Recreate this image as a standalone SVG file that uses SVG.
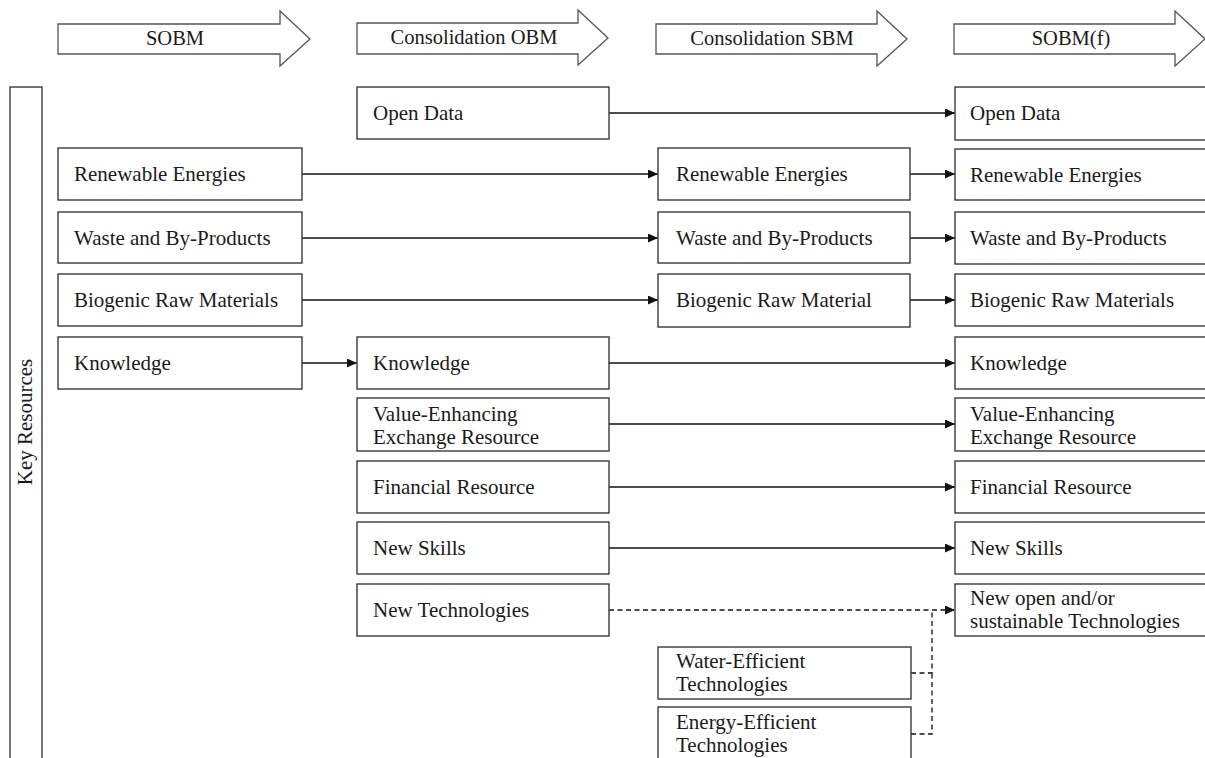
<svg xmlns="http://www.w3.org/2000/svg" width="1205" height="758" viewBox="0 0 1205 758">
  <defs>
    <style>
      text { font-family: "Liberation Serif", "Times New Roman", serif; font-size: 21px; fill: #1a1a1a; }
      .box { fill: #ffffff; stroke: #3a3a3a; stroke-width: 1.4; }
      .phase { fill: #ffffff; stroke: #555555; stroke-width: 1.3; stroke-linejoin: miter; }
      .phase-label { font-size: 20.5px; text-anchor: middle; }
      .link { fill: none; stroke: #111111; stroke-width: 1.3; }
      .dashed { stroke-dasharray: 5 3.5; }
    </style>
    <marker id="head" markerUnits="userSpaceOnUse" markerWidth="11" markerHeight="10" refX="10" refY="4.5" orient="auto">
      <path d="M0,0 L10,4.5 L0,9 z" fill="#111111"/>
    </marker>
  </defs>

  <rect width="1205" height="758" fill="#ffffff"/>

  <!-- phase arrows along the top -->
  <g id="phase-sobm">
    <path class="phase" d="M58,24 H280 V11 L310,39 L280,66 V54 H58 Z"/>
    <text class="phase-label" x="175" y="45">SOBM</text>
  </g>
  <g id="phase-consolidation-obm">
    <path class="phase" d="M357,23 H578 V10 L608,38 L578,65 V54 H357 Z"/>
    <text class="phase-label" x="474" y="44">Consolidation OBM</text>
  </g>
  <g id="phase-consolidation-sbm">
    <path class="phase" d="M656,24 H877 V11 L907,39 L877,66 V54 H656 Z"/>
    <text class="phase-label" x="772" y="45">Consolidation SBM</text>
  </g>
  <g id="phase-sobm-f">
    <path class="phase" d="M954,24 H1175 V11 L1205,39 L1175,66 V54 H954 Z"/>
    <text class="phase-label" x="1071" y="45">SOBM(f)</text>
  </g>

  <!-- vertical category band -->
  <g id="key-resources">
    <rect class="box" x="10" y="87" width="32" height="700"/>
    <text transform="translate(32,422) rotate(-90)" text-anchor="middle">Key Resources</text>
  </g>

  <!-- connectors -->
  <g id="connectors">
    <line class="link" x1="609" y1="113" x2="955" y2="113" marker-end="url(#head)"/>
    <line class="link" x1="302" y1="174" x2="658" y2="174" marker-end="url(#head)"/>
    <line class="link" x1="910" y1="174" x2="955" y2="174" marker-end="url(#head)"/>
    <line class="link" x1="302" y1="238" x2="658" y2="238" marker-end="url(#head)"/>
    <line class="link" x1="910" y1="238" x2="955" y2="238" marker-end="url(#head)"/>
    <line class="link" x1="302" y1="300" x2="658" y2="300" marker-end="url(#head)"/>
    <line class="link" x1="910" y1="300" x2="955" y2="300" marker-end="url(#head)"/>
    <line class="link" x1="302" y1="363" x2="357" y2="363" marker-end="url(#head)"/>
    <line class="link" x1="609" y1="363" x2="955" y2="363" marker-end="url(#head)"/>
    <line class="link" x1="609" y1="424" x2="955" y2="424" marker-end="url(#head)"/>
    <line class="link" x1="609" y1="487" x2="955" y2="487" marker-end="url(#head)"/>
    <line class="link" x1="609" y1="548" x2="955" y2="548" marker-end="url(#head)"/>
    <line class="link dashed" x1="609" y1="610" x2="955" y2="610" marker-end="url(#head)"/>
    <polyline class="link dashed" points="911,673 932,673 932,610"/>
    <polyline class="link dashed" points="911,734 932,734 932,673"/>
  </g>

  <!-- SOBM column -->
  <g id="sobm-renewable-energies">
    <rect class="box" x="58" y="148" width="244" height="52"/>
    <text x="74" y="181">Renewable Energies</text>
  </g>
  <g id="sobm-waste-by-products">
    <rect class="box" x="58" y="212" width="244" height="51"/>
    <text x="74" y="245">Waste and By-Products</text>
  </g>
  <g id="sobm-biogenic-raw-materials">
    <rect class="box" x="58" y="274" width="244" height="52"/>
    <text x="74" y="307">Biogenic Raw Materials</text>
  </g>
  <g id="sobm-knowledge">
    <rect class="box" x="58" y="337" width="244" height="52"/>
    <text x="74" y="370">Knowledge</text>
  </g>

  <!-- Consolidation OBM column -->
  <g id="obm-open-data">
    <rect class="box" x="357" y="87" width="252" height="52"/>
    <text x="373" y="120">Open Data</text>
  </g>
  <g id="obm-knowledge">
    <rect class="box" x="357" y="337" width="252" height="52"/>
    <text x="373" y="370">Knowledge</text>
  </g>
  <g id="obm-value-enhancing">
    <rect class="box" x="357" y="398" width="252" height="53"/>
    <text x="373" y="421">Value-Enhancing</text>
    <text x="373" y="443.5">Exchange Resource</text>
  </g>
  <g id="obm-financial-resource">
    <rect class="box" x="357" y="461" width="252" height="52"/>
    <text x="373" y="494">Financial Resource</text>
  </g>
  <g id="obm-new-skills">
    <rect class="box" x="357" y="522" width="252" height="52"/>
    <text x="373" y="555">New Skills</text>
  </g>
  <g id="obm-new-technologies">
    <rect class="box" x="357" y="584" width="252" height="52"/>
    <text x="373" y="617">New Technologies</text>
  </g>

  <!-- Consolidation SBM column -->
  <g id="sbm-renewable-energies">
    <rect class="box" x="658" y="148" width="252" height="52"/>
    <text x="676" y="181">Renewable Energies</text>
  </g>
  <g id="sbm-waste-by-products">
    <rect class="box" x="658" y="212" width="252" height="51"/>
    <text x="676" y="245">Waste and By-Products</text>
  </g>
  <g id="sbm-biogenic-raw-material">
    <rect class="box" x="658" y="274" width="252" height="53"/>
    <text x="676" y="307">Biogenic Raw Material</text>
  </g>
  <g id="sbm-water-efficient">
    <rect class="box" x="658" y="647" width="253" height="52"/>
    <text x="676" y="668">Water-Efficient</text>
    <text x="676" y="691">Technologies</text>
  </g>
  <g id="sbm-energy-efficient">
    <rect class="box" x="658" y="707" width="253" height="70"/>
    <text x="676" y="729">Energy-Efficient</text>
    <text x="676" y="752">Technologies</text>
  </g>

  <!-- SOBM(f) column -->
  <g id="f-open-data">
    <rect class="box" x="955" y="87" width="260" height="53"/>
    <text x="970" y="120">Open Data</text>
  </g>
  <g id="f-renewable-energies">
    <rect class="box" x="955" y="149" width="260" height="51"/>
    <text x="970" y="182">Renewable Energies</text>
  </g>
  <g id="f-waste-by-products">
    <rect class="box" x="955" y="212" width="260" height="52"/>
    <text x="970" y="245">Waste and By-Products</text>
  </g>
  <g id="f-biogenic-raw-materials">
    <rect class="box" x="955" y="274" width="260" height="52"/>
    <text x="970" y="307">Biogenic Raw Materials</text>
  </g>
  <g id="f-knowledge">
    <rect class="box" x="955" y="337" width="260" height="52"/>
    <text x="970" y="370">Knowledge</text>
  </g>
  <g id="f-value-enhancing">
    <rect class="box" x="955" y="398" width="260" height="53"/>
    <text x="970" y="421">Value-Enhancing</text>
    <text x="970" y="443.5">Exchange Resource</text>
  </g>
  <g id="f-financial-resource">
    <rect class="box" x="955" y="461" width="260" height="52"/>
    <text x="970" y="494">Financial Resource</text>
  </g>
  <g id="f-new-skills">
    <rect class="box" x="955" y="522" width="260" height="52"/>
    <text x="970" y="555">New Skills</text>
  </g>
  <g id="f-new-sustainable-technologies">
    <rect class="box" x="955" y="584" width="260" height="52"/>
    <text x="970" y="605">New open and/or</text>
    <text x="970" y="628">sustainable Technologies</text>
  </g>
</svg>
